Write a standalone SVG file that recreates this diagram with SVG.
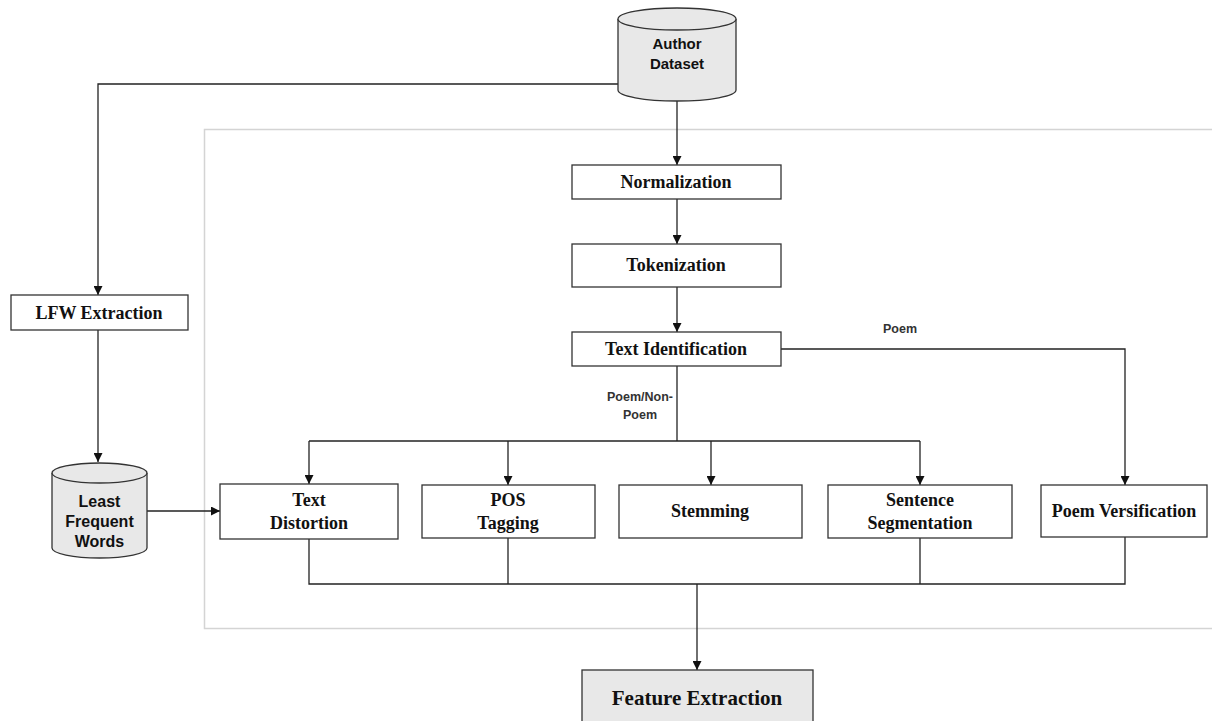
<svg xmlns="http://www.w3.org/2000/svg" width="1212" height="721" viewBox="0 0 1212 721">
<style>
.box{fill:#fff;stroke:#333;stroke-width:1.3}
.gbox{fill:#e8e8e8;stroke:#333;stroke-width:1.3}
.cyl{fill:#e8e8e8;stroke:#333;stroke-width:1.3}
.t{font-family:"Liberation Serif","Times New Roman",serif;font-weight:bold;font-size:18px;fill:#111;text-anchor:middle}
.s{font-family:"Liberation Sans",Arial,sans-serif;font-weight:bold;font-size:15px;fill:#111;text-anchor:middle}
.lbl{font-family:"Liberation Sans",Arial,sans-serif;font-weight:bold;font-size:12.5px;fill:#333;text-anchor:middle}
.c{fill:none;stroke:#222;stroke-width:1.3}
</style>
<defs>
<marker id="arr" viewBox="0 0 10 10" refX="10" refY="5" markerWidth="9" markerHeight="9" markerUnits="userSpaceOnUse" orient="auto">
<path d="M0,0 L10,5 L0,10 z" fill="#111"/>
</marker>
</defs>
<rect x="204.5" y="129.5" width="1020" height="499" fill="none" stroke="#d4d4d4" stroke-width="1.5"/>
<g id="connectors">
<path class="c" d="M677,100 V165" marker-end="url(#arr)"/>
<path class="c" d="M618,84 H98 V295" marker-end="url(#arr)"/>
<path class="c" d="M677,199 V244" marker-end="url(#arr)"/>
<path class="c" d="M677,287 V332" marker-end="url(#arr)"/>
<path class="c" d="M781,349 H1125 V485" marker-end="url(#arr)"/>
<path class="c" d="M677,366 V441"/>
<path class="c" d="M309,441 H920"/>
<path class="c" d="M309,441 V484" marker-end="url(#arr)"/>
<path class="c" d="M508,441 V485" marker-end="url(#arr)"/>
<path class="c" d="M711,441 V485" marker-end="url(#arr)"/>
<path class="c" d="M920,441 V485" marker-end="url(#arr)"/>
<path class="c" d="M98,330 V462" marker-end="url(#arr)"/>
<path class="c" d="M147,511 H220" marker-end="url(#arr)"/>
<path class="c" d="M309,539 V584 H1125 V537"/>
<path class="c" d="M508,538 V584"/>
<path class="c" d="M920,538 V584"/>
<path class="c" d="M697,584 V670" marker-end="url(#arr)"/>
<text class="lbl" x="900" y="333">Poem</text>
<text class="lbl" x="640" y="401">Poem/Non-</text>
<text class="lbl" x="640" y="419">Poem</text>
</g>
<g id="author-dataset">
<path class="cyl" d="M618,19 V90 A59,11 0 0 0 736,90 V19"/>
<ellipse class="cyl" cx="677" cy="19" rx="59" ry="11"/>
<text class="s" x="677" y="49">Author</text>
<text class="s" x="677" y="69">Dataset</text>
</g>
<g id="normalization">
<rect class="box" x="572" y="165" width="209" height="34"/>
<text class="t" x="676" y="188">Normalization</text>
</g>
<g id="tokenization">
<rect class="box" x="572" y="244" width="209" height="43"/>
<text class="t" x="676" y="271">Tokenization</text>
</g>
<g id="text-identification">
<rect class="box" x="572" y="332" width="209" height="34"/>
<text class="t" x="676" y="355">Text Identification</text>
</g>
<g id="lfw-extraction">
<rect class="box" x="11" y="295" width="177" height="35"/>
<text class="t" x="99" y="319">LFW Extraction</text>
</g>
<g id="least-frequent-words">
<path class="cyl" d="M52,473 V548 A47.5,10 0 0 0 147,548 V473"/>
<ellipse class="cyl" cx="99.5" cy="473" rx="47.5" ry="10"/>
<text class="s" x="99.5" y="507" style="font-size:16px">Least</text>
<text class="s" x="99.5" y="527" style="font-size:16px">Frequent</text>
<text class="s" x="99.5" y="547" style="font-size:16px">Words</text>
</g>
<g id="text-distortion">
<rect class="box" x="220" y="484" width="178" height="55"/>
<text class="t" x="309" y="506">Text</text>
<text class="t" x="309" y="529">Distortion</text>
</g>
<g id="pos-tagging">
<rect class="box" x="422" y="485" width="173" height="53"/>
<text class="t" x="508" y="506">POS</text>
<text class="t" x="508" y="529">Tagging</text>
</g>
<g id="stemming">
<rect class="box" x="619" y="485" width="183" height="53"/>
<text class="t" x="710" y="517">Stemming</text>
</g>
<g id="sentence-segmentation">
<rect class="box" x="828" y="485" width="184" height="53"/>
<text class="t" x="920" y="506">Sentence</text>
<text class="t" x="920" y="529">Segmentation</text>
</g>
<g id="poem-versification">
<rect class="box" x="1041" y="485" width="166" height="52"/>
<text class="t" x="1124" y="517">Poem Versification</text>
</g>
<g id="feature-extraction">
<rect class="gbox" x="582" y="670" width="231" height="60"/>
<text class="t" x="697" y="705" style="font-size:21px">Feature Extraction</text>
</g>
</svg>
